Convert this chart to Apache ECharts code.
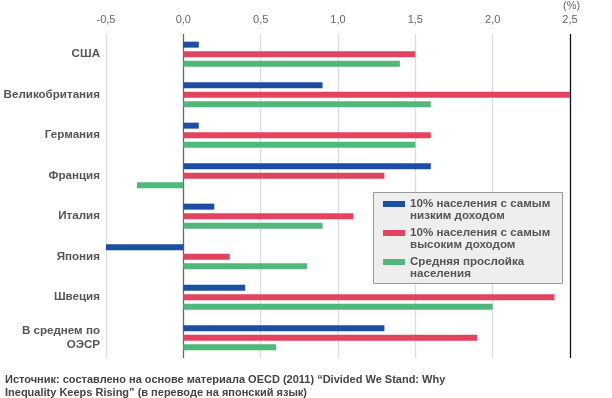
<!DOCTYPE html>
<html><head><meta charset="utf-8">
<script src="https://cdn.jsdelivr.net/npm/echarts@6/dist/echarts.min.js"></script>
<style>html,body{margin:0;padding:0;background:#fff}#c{width:612px;height:398px}</style>
</head><body><div id="c"></div>
<script>
const categories = ['США','Великобритания','Германия','Франция','Италия','Япония','Швеция','В среднем по\nОЭСР'];
const seriesNames = ['10% населения с самым низким доходом','10% населения с самым высоким доходом','Средняя прослойка населения'];
const legendLabels = ['10% населения с самым\nнизким доходом','10% населения с самым\nвысоким доходом','Средняя прослойка\nнаселения'];
const lowIncome = [0.1, 0.9, 0.1, 1.6, 0.2, -0.5, 0.4, 1.3];
const highIncome = [1.5, 2.5, 1.6, 1.3, 1.1, 0.3, 2.4, 1.9];
const middleIncome = [1.4, 1.6, 1.5, -0.3, 0.9, 0.8, 2.0, 0.6];
const xTicks = [-0.5, 0, 0.5, 1, 1.5, 2, 2.5];
const sourceText = 'Источник: составлено на основе материала OECD (2011) “Divided We Stand: Why\nInequality Keeps Rising” (в переводе на японский язык)';
const unitText = '(%)';
const colors = ['#1c4ea3', '#e2445f', '#50b87b'];

const FONT = '"Liberation Sans", Arial, Helvetica, sans-serif';
const chart = echarts.init(document.getElementById('c'));
const values = [lowIncome, highIncome, middleIncome];
const labelMap = {};
seriesNames.forEach((n, i) => labelMap[n] = '\n' + legendLabels[i]);

chart.setOption({
  animation: false,
  textStyle: { fontFamily: FONT },
  title: [
    { text: sourceText, left: 5, top: 373, padding: 0, textStyle: { fontFamily: FONT, fontSize: 11, fontWeight: 'bold', color: '#444', lineHeight: 13 } },
    { text: unitText, left: 563, top: 0, padding: 0, textStyle: { fontFamily: FONT, fontSize: 11, fontWeight: 'normal', color: '#666' } }
  ],
  graphic: [
    { type: 'rect', left: 373, top: 192, z: 3, shape: { width: 189, height: 91 }, style: { fill: '#eeeeee', stroke: '#999', lineWidth: 1 } }
  ],
  legend: {
    orient: 'vertical', left: 383, top: 186, padding: 0, itemGap: -7, z: 10,
    itemWidth: 22, itemHeight: 6, icon: 'rect',
    data: seriesNames,
    formatter: n => labelMap[n],
    textStyle: { fontFamily: FONT, fontSize: 11.6, fontWeight: 'bold', color: '#555', lineHeight: 12 }
  },
  grid: { left: 106, right: 42, top: 34, height: 324, containLabel: false },
  xAxis: {
    type: 'value', position: 'top', min: -0.5, max: 2.5, interval: 0.5,
    axisLine: { show: false }, axisTick: { show: false },
    axisLabel: { margin: 9, color: '#666', fontSize: 11, fontFamily: FONT, formatter: v => v.toFixed(1).replace('.', ',') },
    splitLine: { show: true, lineStyle: { width: 1.3, color: ['#dcdcdc', '#666', '#dcdcdc', '#dcdcdc', '#dcdcdc', '#dcdcdc', '#111'] } }
  },
  yAxis: {
    type: 'category', data: categories, inverse: true,
    axisLine: { show: false, onZero: false }, axisTick: { show: false },
    axisLabel: { margin: 6, color: '#555', fontSize: 11.6, fontWeight: 'bold', fontFamily: FONT, lineHeight: 14 }
  },
  series: seriesNames.map((n, i) => ({
    name: n, type: 'bar', data: values[i], barWidth: 6, barGap: '60%',
    itemStyle: { color: colors[i] }
  }))
});
</script></body></html>
